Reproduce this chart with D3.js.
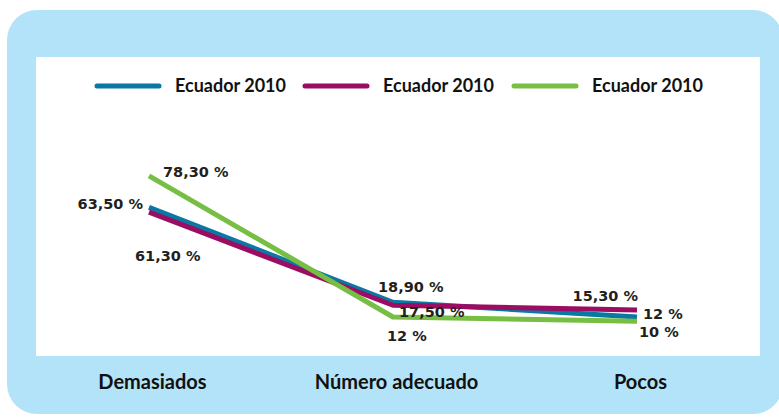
<!DOCTYPE html>
<html>
<head>
<meta charset="utf-8">
<script src="https://cdn.jsdelivr.net/npm/d3@7"></script>
<style>
  body { margin: 0; background: #fff; }
  svg { display: block; }
  .val { font-family: "DejaVu Sans", Verdana, sans-serif; font-weight: bold; font-size: 14.5px; fill: #231f20; }
  .lbl { font-family: Lato, "Open Sans", sans-serif; font-weight: bold; fill: #111; }
</style>
</head>
<body>
<svg id="chart" width="779" height="417"></svg>
<script>
// data
var categories = ['Demasiados', 'Número adecuado', 'Pocos'];
var seriesNames = ['Ecuador 2010', 'Ecuador 2010', 'Ecuador 2010'];
var blueValues = [63.5, 18.9, 12];
var magentaValues = [61.3, 17.5, 15.3];
var greenValues = [78.3, 12, 10];
var colors = ['#0b77a3', '#9b0d62', '#76bf44'];

// label offsets from each point (dx, dy, anchor), per series
var labelOffsets = [
  [[-6, -4, 'end'], [-15, -15, 'start'], [6, -3, 'start']],
  [[-14, 44, 'start'], [6, 7, 'start'], [1, -14, 'end']],
  [[14, -4, 'start'], [-6, 19, 'start'], [2, 11, 'start']]
];

var series = [blueValues, magentaValues, greenValues];

var svg = d3.select('#chart');

// backgrounds
svg.append('rect')
  .attr('x', 7).attr('y', 10)
  .attr('width', 776).attr('height', 404)
  .attr('rx', 30).attr('ry', 30)
  .attr('fill', '#b3e3f8');
svg.append('rect')
  .attr('x', 36).attr('y', 57)
  .attr('width', 724).attr('height', 299)
  .attr('fill', '#ffffff');

var x = d3.scalePoint().domain(categories).range([149, 637]);
var y = d3.scaleLinear().domain([0, 100]).range([342.5, 129.8]);

var fmt = function(v) {
  if (Math.round(v) === v) { return v + ' %'; }
  return v.toFixed(2).replace('.', ',') + ' %';
};

var line = d3.line()
  .x(function(d, i) { return x(categories[i]); })
  .y(function(d) { return y(d); });

// lines
series.forEach(function(vals, s) {
  svg.append('path')
    .attr('d', line(vals))
    .attr('fill', 'none')
    .attr('stroke', colors[s])
    .attr('stroke-width', 5)
    .attr('stroke-linejoin', 'round');
});

// value labels
series.forEach(function(vals, s) {
  vals.forEach(function(v, i) {
    var off = labelOffsets[s][i];
    svg.append('text')
      .attr('class', 'val')
      .attr('x', x(categories[i]) + off[0])
      .attr('y', y(v) + off[1])
      .attr('dy', '0.35em')
      .attr('text-anchor', off[2])
      .text(fmt(v));
  });
});

// category labels (axis without line/ticks)
var axis = svg.append('g')
  .attr('transform', 'translate(3,382)')
  .call(d3.axisBottom(x).tickSize(0).tickPadding(0));
axis.select('.domain').remove();
axis.selectAll('text')
  .attr('class', 'lbl')
  .style('font-size', '20px')
  .attr('dy', '0.35em')
  .attr('fill', null);

// legend
var legendX = [95, 303, 512];
var legend = svg.append('g');
seriesNames.forEach(function(name, s) {
  var g = legend.append('g').attr('transform', 'translate(' + legendX[s] + ',86)');
  g.append('line')
    .attr('x1', 2).attr('x2', 64)
    .attr('stroke', colors[s])
    .attr('stroke-width', 5)
    .attr('stroke-linecap', 'round');
  g.append('text')
    .attr('class', 'lbl')
    .style('font-size', '18px')
    .attr('x', 80)
    .attr('dy', '0.35em')
    .text(name);
});
</script>
</body>
</html>
